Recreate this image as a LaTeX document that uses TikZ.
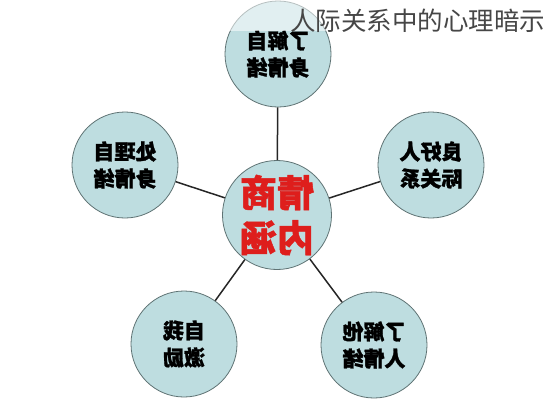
\documentclass[tikz,border=0pt]{standalone}
\usepackage{fontspec}
\newfontfamily\cjk{Noto Sans CJK SC}[BoldFeatures={FakeBold=1.3}]
\usepackage{graphicx}
\definecolor{bubblefill}{RGB}{190,221,224}
\definecolor{bubbleline}{RGB}{95,115,116}
\definecolor{hubred}{RGB}{222,30,28}
\definecolor{titlegray}{RGB}{70,70,70}
\tikzset{
  bubble/.style={circle,draw=bubbleline,fill=bubblefill,line width=0.8pt,
    minimum size=106pt,inner sep=0pt,align=center,
    font=\cjk\bfseries\fontsize{21}{27}\selectfont},
  hub/.style={bubble,text=hubred,font=\cjk\bfseries\fontsize{37}{45}\selectfont},
  spoke/.style={line width=1.5pt,draw=black!85}
}
\newcommand{\mirror}[1]{\reflectbox{#1}}
\begin{document}
\begin{tikzpicture}[x=1pt,y=-1pt]
  \useasboundingbox (0,0) rectangle (549,400);
  \clip (0,0) rectangle (549,400);
  \fill[white] (0,0) rectangle (549,400);
  \draw
    (277,215) node[hub] (eq){\mirror{情商}\\\mirror{内涵}}
    (278,54) node[bubble] (self){\mirror{了解自}\\\mirror{身情绪}}
    (125,165) node[bubble] (manage){\mirror{处理自}\\\mirror{身情绪}}
    (431,165) node[bubble] (relation){\mirror{良好人}\\\mirror{际关系}}
    (184,344) node[bubble] (motive){\mirror{自我}\\\mirror{激励}}
    (374,345) node[bubble] (others){\mirror{了解他}\\\mirror{人情绪}};
  \begin{scope}[spoke]
    \draw (eq) to (self);
    \draw (eq) to (manage);
    \draw (eq) to (relation);
    \draw (eq) to (motive);
    \draw (eq) to (others);
  \end{scope}
  % title band
  \fill[white,opacity=0.55] (215,0) rectangle (549,31);
  \node[anchor=west,inner sep=0pt,text=titlegray,
    font=\cjk\fontsize{25.5}{30}\selectfont] (title) at (290,21) {人际关系中的心理暗示};
\end{tikzpicture}
\end{document}
